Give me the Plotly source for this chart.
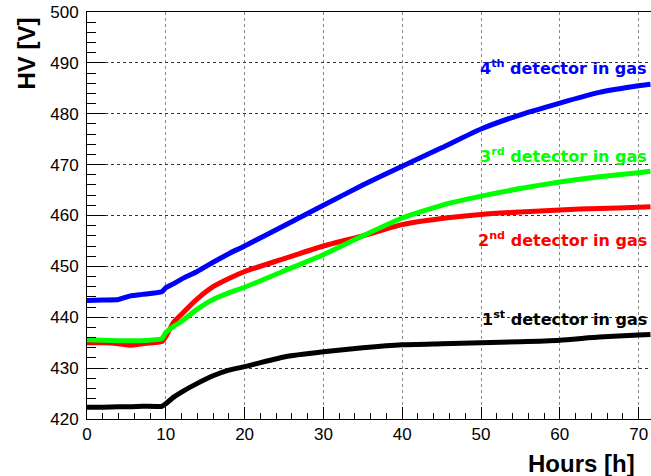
import plotly.graph_objects as go

# Hours sampled along each curve
hours = [0, 2, 4, 5.5, 7, 9.5, 10, 11, 12, 14, 16, 18, 20, 25, 30, 35, 40, 45, 50, 55, 60, 65, 70, 71.5]

det1 = [422.3, 422.3, 422.4, 422.4, 422.5, 422.5, 423.0, 424.3, 425.3, 427.0, 428.5, 429.6, 430.3, 432.2, 433.2, 434.0, 434.6, 434.8, 435.0, 435.2, 435.5, 436.1, 436.5, 436.6]
det2 = [435.0, 435.0, 434.8, 434.5, 434.8, 435.2, 436.2, 439.0, 440.6, 443.6, 446.0, 447.6, 449.0, 451.5, 454.0, 456.0, 458.2, 459.4, 460.2, 460.7, 461.1, 461.4, 461.6, 461.7]
det3 = [435.6, 435.5, 435.4, 435.4, 435.4, 435.8, 437.0, 438.2, 439.2, 441.6, 443.5, 444.8, 445.9, 449.1, 452.3, 456.0, 459.5, 462.0, 463.8, 465.3, 466.6, 467.6, 468.4, 468.7]
det4 = [443.3, 443.4, 443.5, 444.2, 444.5, 445.0, 445.8, 446.6, 447.5, 449.0, 450.8, 452.5, 454.0, 458.0, 462.0, 466.0, 469.7, 473.3, 477.0, 479.8, 482.1, 484.2, 485.5, 485.8]

series = [
    ("1st detector in gas", det1, "#000000"),
    ("2nd detector in gas", det2, "#ff0000"),
    ("3rd detector in gas", det3, "#00ff00"),
    ("4th detector in gas", det4, "#0000ff"),
]

labels = ["1<sup>st</sup> detector in gas", "2<sup>nd</sup> detector in gas",
          "3<sup>rd</sup> detector in gas", "4<sup>th</sup> detector in gas"]
label_y = [439.8, 455.2, 471.7, 489.1]

fig = go.Figure()
for name, vals, col in series:
    fig.add_trace(go.Scatter(x=hours, y=vals, mode="lines", name=name,
                             line=dict(color=col, width=5, shape="spline", smoothing=0.5),
                             showlegend=False, hoverinfo="skip"))

for (name, vals, col), lab, ly in zip(series, labels, label_y):
    fig.add_annotation(x=0.997, xref="paper", y=ly, yref="y", text=lab,
                       showarrow=False, xanchor="right", yanchor="middle",
                       font=dict(family="DejaVu Sans", size=16, color=col, weight="bold"))

fig.add_annotation(x=-0.108, xref="paper", y=0.898, yref="paper", text="<b>HV [V]</b>",
                   textangle=-90, showarrow=False, xanchor="center", yanchor="middle",
                   font=dict(family="Liberation Sans", size=24, color="black"))
fig.add_annotation(x=0.975, xref="paper", y=-0.11, yref="paper", text="<b>Hours [h]</b>",
                   showarrow=False, xanchor="right", yanchor="middle",
                   font=dict(family="Liberation Sans", size=24, color="black"))

axis_common = dict(showline=True, linecolor="black", linewidth=1, mirror=True,
                   ticks="inside", tickcolor="black", showgrid=True, griddash="dot",
                   zeroline=False, tickfont=dict(family="Liberation Sans", size=17, color="black"))

fig.update_xaxes(range=[0, 71.57], dtick=10, tick0=0, ticklen=12, gridcolor="#888888",
                 minor=dict(dtick=2, ticklen=6, ticks="inside", tickcolor="black", showgrid=False),
                 **axis_common)
fig.update_yaxes(range=[420, 500], dtick=10, tick0=420, ticklen=18, gridcolor="#333333",
                 minor=dict(dtick=2, ticklen=9, ticks="inside", tickcolor="black", showgrid=False),
                 ticklabelstandoff=4, **axis_common)

fig.update_layout(width=651, height=476, margin=dict(l=87, r=0, t=12, b=57),
                  paper_bgcolor="white", plot_bgcolor="white")

# remove the default page margin so the figure fills the window exactly
fig.write_html("out.html", config={"displayModeBar": False},
               post_script="document.body.style.margin='0';document.body.style.overflow='hidden';")
